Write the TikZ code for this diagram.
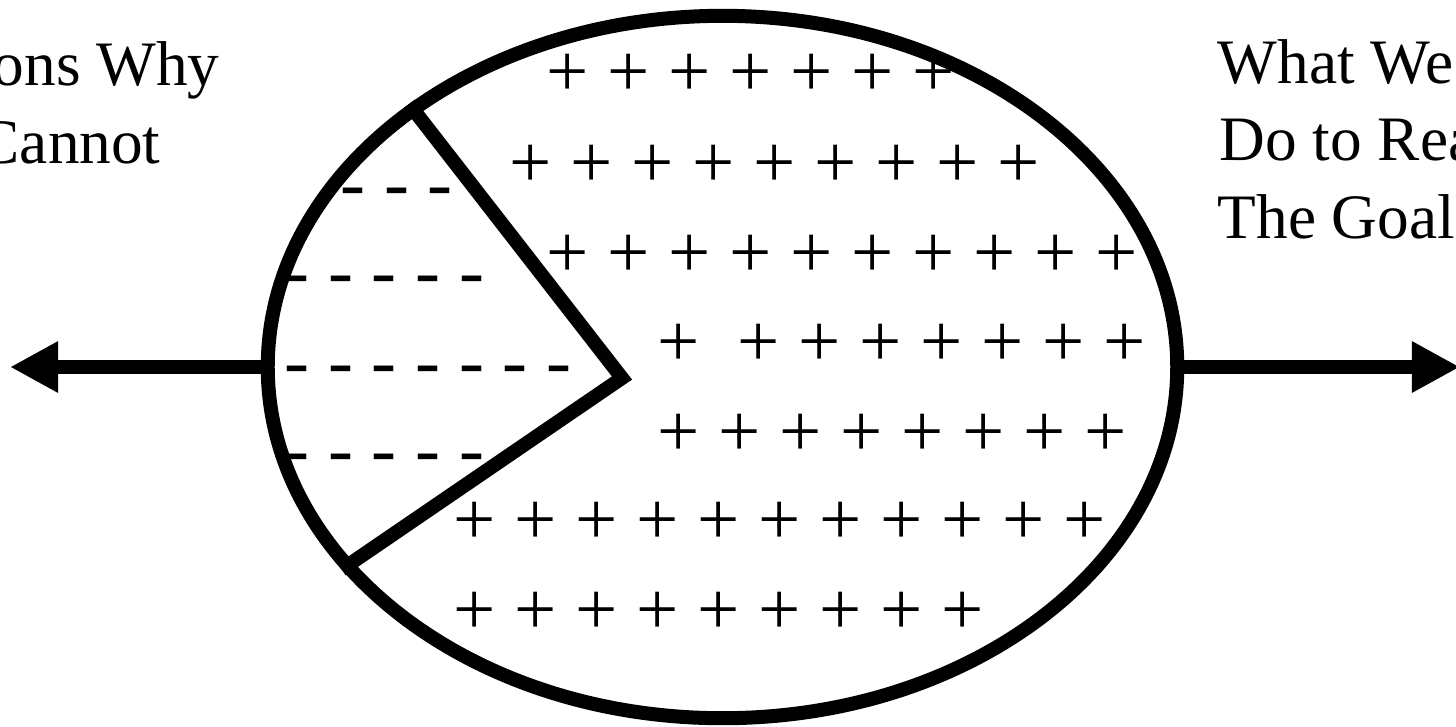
\documentclass[tikz,border=0pt]{standalone}
\usepackage{fontspec}
\setmainfont{Liberation Serif}
\usetikzlibrary{shapes.geometric, arrows.meta}

\tikzset{
  sidetext/.style={font=\fontsize{18pt}{22pt}\selectfont, anchor=base west, inner sep=0pt},
  marktext/.style={font=\fontsize{21.3pt}{25pt}\selectfont, anchor=base west, inner sep=0pt},
  rim/.style={draw, ellipse, line width=1.4mm, inner sep=0pt},
  cutline/.style={line width=1.4mm, line join=miter},
  outarrow/.style={line width=1.4mm, -{Triangle[length=4.8mm, width=4.8mm]}}
}

\begin{document}
\begin{tikzpicture}[x=0.01cm, y=-0.01cm]

  \useasboundingbox (0,0) rectangle (1456,726);

  % ============================================================
  %  Side texts (cut by the page edge)
  % ============================================================
  \node[sidetext] (why)    at (-8,85)    {ons Why};
  \node[sidetext] (cannot) at (-23,163)  {Cannot};
  \node[sidetext] (whatwe) at (1217,83)  {What We};
  \node[sidetext] (doto)   at (1219,160) {Do to Rea};
  \node[sidetext] (goal)   at (1217,238) {The Goal};

  % ============================================================
  %  Plus rows (right part) and dash rows (left slice)
  % ============================================================
  \node[marktext] (plusA) at (546,96)  {+ + + + + + +};
  \node[marktext] (plusB) at (509,187) {+ + + + + + + + +};
  \node[marktext] (plusC) at (546,277) {+ + + + + + + + + +};
  \node[marktext] (plusD) at (657,366) {+~~+ + + + + + +};
  \node[marktext] (plusE) at (657,456) {+ + + + + + + +};
  \node[marktext] (plusF) at (453,544) {+ + + + + + + + + + +};
  \node[marktext] (plusG) at (453,634) {+ + + + + + + + +};

  \node[marktext] (dashA) at (340,208) {- - -};
  \node[marktext] (dashB) at (284,296) {- - - - -};
  \node[marktext] (dashC) at (284,386) {- - - - - - -};
  \node[marktext] (dashD) at (284,474) {- - - - -};

  % ============================================================
  %  Ellipse, slice and arrows
  % ============================================================
  \node[rim, minimum width=9.09cm, minimum height=7.02cm] (ring) at (722.5,367) {};

  \coordinate (apex) at (622,378);
  \draw[cutline] (ring.140.3) -- (apex) -- (ring.208);

  \coordinate (leftend)  at (10,367);
  \coordinate (rightend) at (1460,367);
  \draw[outarrow] (ring.west) -- (leftend);
  \draw[outarrow] (ring.east) -- (rightend);

\end{tikzpicture}
\end{document}
